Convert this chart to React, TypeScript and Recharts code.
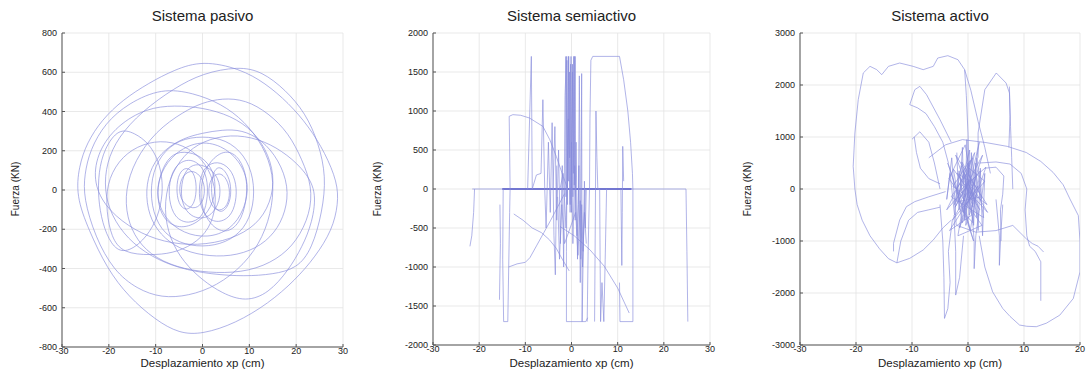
import { LineChart, Line, XAxis, YAxis, CartesianGrid } from 'recharts'

type Pt = [number, number]

// --- Sistema pasivo: fuerza vs desplazamiento (lazos)
const pasivoLoopA: Pt[] = [[0,660],[8,618],[13.4,545],[18.4,443],[22.7,324],[26.2,188],[28.8,40],[29,-70],[27.7,-204],[24.1,-340],[19.8,-459],[14.1,-578],[7,-680],[0,-735],[-5,-731],[-10,-663],[-15.8,-544],[-20.4,-400],[-24.3,-204],[-27,-30],[-26.4,120],[-24.7,240],[-21.5,358],[-17,460],[-11.5,545],[-6,613],[0,660]]
const pasivoLoopB: Pt[] = [[-6,520],[0,595],[7.7,630],[12.7,604],[17.7,511],[22,392],[24.8,239],[26.4,69],[25.6,-110],[23.4,-300],[20.2,-400],[15,-430],[9,-440],[2,-430],[-5,-400],[-11,-340],[-16,-250],[-19.5,-130],[-21,0],[-20.5,140],[-18,270],[-13,400],[-6,520]]
const pasivoLoopC: Pt[] = [[-8.7,519],[-2,495],[4,440],[9,350],[13,225],[15.2,80],[15,-80],[13,-240],[9,-380],[3,-490],[-3,-540],[-8.7,-550],[-14,-505],[-19,-410],[-22.9,-240],[-25.4,-40],[-25.2,80],[-24,205],[-20.8,341],[-15.8,443],[-8.7,519]]
const pasivoLoopD: Pt[] = [[-17.9,316],[-14.4,290],[-11.5,239],[-9.4,154],[-8.4,40],[-8.8,-80],[-10.5,-190],[-13.5,-280],[-17,-323],[-19.5,-280],[-21.4,-170],[-22.3,-40],[-22.2,90],[-21,210],[-17.9,316]]
const pasivoLoopE: Pt[] = [[-0.1,290],[4.2,307],[8.4,307],[12.7,256],[16.3,154],[18.4,18],[17.8,-110],[15.5,-220],[11.5,-300],[6,-340],[0,-335],[-5,-300],[-9,-230],[-11.5,-130],[-12.2,0],[-11,120],[-8,210],[-4,265],[-0.1,290]]
const pasivoLoopF: Pt[] = [[-4,400],[0,445],[4.2,468],[9.2,460],[14.1,392],[18.4,290],[21.3,154],[23.4,18],[23,-120],[20.2,-260],[16,-355],[10,-415],[3,-425],[-4,-405],[-10,-350],[-14,-260],[-16.2,-140],[-16.5,0],[-14.5,150],[-10,300],[-4,400]]
const pasivoLoopG: Pt[] = [[24.5,0],[23.4,-170],[21.3,-289],[18.4,-408],[14.1,-527],[9.2,-570],[4.2,-527],[0,-460],[-4,-370],[-7,-250],[-8.3,-100],[-7.2,60],[-4,180],[0,250],[6,285],[12,262],[17,200],[21.2,115],[24.5,0]]
const pasivoLoopH: Pt[] = [[-17,-323],[-11,-332],[-6.5,-323],[-2,-280],[1.5,-200],[3,-80],[2.5,50],[0,160],[-4,230],[-9,255],[-14,225],[-18,150],[-20.5,30],[-20.5,-110],[-19.5,-240],[-17,-323]]
const pasivoLoopP: Pt[] = [[-12,417],[-6,432],[0,420],[6,380],[11,300],[14.2,180],[15.5,40],[14,-100],[10.5,-200],[4.5,-265],[-3,-285],[-10,-255],[-16,-185],[-21,-80],[-23.4,50],[-22.3,200],[-18.2,330],[-12,417]]
const pasivoLoopK: Pt[] = [[0,275],[5,258],[9,180],[11,60],[11,-80],[9,-200],[5,-270],[0,-292],[-5,-272],[-9,-205],[-11,-80],[-11,60],[-9,180],[-5,258],[0,275]]
const pasivoLoopL: Pt[] = [[-1,250],[4,230],[8,150],[10,30],[9,-100],[6,-205],[1,-245],[-4,-222],[-8,-150],[-10,-30],[-9,90],[-6,190],[-1,250]]
const pasivoLoopI: Pt[] = [[-3,165],[0,125],[1.2,40],[1,-60],[0,-140],[-3,-175],[-6,-142],[-7.2,-50],[-7.1,40],[-6,122],[-3,165]]
const pasivoLoopJ: Pt[] = [[3.2,150],[6,112],[7.3,30],[7.2,-60],[6,-140],[3,-172],[0.2,-130],[-0.8,-40],[-0.6,50],[0.4,120],[3.2,150]]
const pasivoLoopM: Pt[] = [[-2,105],[0,62],[0.6,0],[0,-72],[-2,-102],[-4.5,-62],[-5.1,10],[-4.2,80],[-2,105]]
const pasivoLoopN: Pt[] = [[4,92],[5.6,40],[5.9,-30],[5.1,-92],[3,-112],[1.5,-62],[1.2,10],[2,70],[4,92]]
const pasivoLoopQ: Pt[] = [[-5,200],[-1,185],[2,120],[3,20],[2,-90],[-1,-170],[-5,-200],[-8.5,-150],[-9.8,-40],[-9.2,70],[-7.5,160],[-5,200]]
const pasivoLoopR: Pt[] = [[5,210],[8,165],[9.6,60],[9.4,-60],[8,-170],[5,-225],[1.5,-180],[-0.5,-70],[-0.3,50],[1.5,150],[5,210]]
const pasivoLoopS: Pt[] = [[-1,140],[2.5,100],[4,20],[3.5,-80],[1,-150],[-2.5,-140],[-4.5,-70],[-4.6,30],[-3.5,110],[-1,140]]
const pasivoLoopT: Pt[] = [[-3.5,120],[-1.8,90],[-1.2,20],[-1.6,-70],[-3.5,-110],[-5.2,-70],[-5.6,10],[-5.1,85],[-3.5,120]]
const pasivoLoopU: Pt[] = [[3.5,125],[5.2,90],[6.2,20],[5.9,-70],[4,-125],[2.2,-80],[1.8,10],[2.2,90],[3.5,125]]

// --- Sistema semiactivo
const semiBase: Pt[] = [[-21.5,0],[24.8,0]]
const semiBaseDense: Pt[] = [[-15,0],[13,0]]
const semiLeftTail: Pt[] = [[-21,0],[-21.2,-300],[-21.6,-600],[-22,-735]]
const semiLeftStep: Pt[] = [[-15.5,-200],[-15.4,-700],[-15.6,-1420]]
const semiLeftBox: Pt[] = [[-14.8,0],[-14.9,-900],[-14.7,-1700],[-13.8,-1700],[-13.6,-1000],[-13.4,-300],[-13.3,0],[-13.4,500],[-13.5,932],[-12.7,953],[-11,945],[-9.1,910],[-6.2,803],[-4.7,632],[-3.3,419],[-1.8,162],[-0.8,0]]
const semiDiagA: Pt[] = [[-13.6,-1000],[-11.8,-960],[-10,-940],[-9,-880],[-7.5,-720],[-6,-560],[-4.5,-400],[-3,-230],[-1.5,-60]]
const semiDiagB: Pt[] = [[-12.5,-320],[-10.5,-400],[-8.5,-500],[-6.5,-560],[-4.8,-650],[-3.3,-760],[-2,-900],[-0.5,-1050]]
const semiDiagC: Pt[] = [[-2.5,-480],[0.6,-600],[4,-780],[7.1,-990],[10,-1270],[12.5,-1590]]
const semiLeftSpikes: Pt[] = [[-9.5,0],[-8.7,1700],[-8.5,0],[-7.6,180],[-6.6,200],[-6.2,1145],[-5.8,0],[-5.5,-500],[-5,600],[-4.6,-300],[-4.2,850],[-3.8,-600],[-3.5,-1100],[-3.2,300]]
const semiCenter: Pt[] = [[-4,0],[-3.6,800],[-3.2,-400],[-2.8,500],[-2.4,-700],[-2,300],[-1.7,-1000],[-1.4,1200],[-1.1,1700],[-0.9,-200],[-0.6,1700],[-0.4,400],[-0.2,1600],[0,-300],[0.2,1500],[0.4,200],[0.6,1700],[0.8,-400],[1,600],[1.3,-900],[1.6,300],[1.9,-1200],[2.2,-200],[2.5,-800],[2.8,100],[3,-500],[3.2,0]]
const semiCenter2: Pt[] = [[-2.5,0],[-1.8,200],[-1.2,-500],[-0.7,900],[-0.3,-300],[0,600],[0.3,-700],[0.7,300],[1.2,-600],[1.5,-200],[1.7,1450],[2,-900],[2.2,1480],[2.3,-1700],[2.6,-600],[3,0]]
const semiFan: Pt[] = [[-1.3,1700],[-1.2,-100],[-1,1650],[-0.9,0],[-0.7,1700],[-0.6,100],[-0.45,1500],[-0.3,-200],[-0.1,1700],[0,0],[0.2,1600],[0.3,-100],[0.5,1700],[0.6,50],[0.8,1700],[0.9,0]]
const semiLower: Pt[] = [[-3,-100],[-2.6,-900],[-2.1,-200],[-1.5,-700],[0.9,-300],[1.4,-850],[1.9,-150],[2.4,-1000],[2.8,-300],[3.2,-700]]
const semiBottomBox: Pt[] = [[-1,0],[-1.1,-800],[-1.1,-1700],[3.1,-1700],[3.5,-1650]]
const semiRightBox: Pt[] = [[3.4,-1700],[3.6,-800],[3.9,0],[4,900],[4.2,1650],[4.6,1700],[10.4,1700],[11.3,1400],[12.2,1000],[12.8,600],[13.2,200],[13.3,0],[13.3,-900],[13.3,-1700],[10.5,-1700],[10.4,-1200]]
const semiRightSpikes: Pt[] = [[5,-1700],[5.1,-900],[5.2,0],[5.3,1000],[5.5,400],[5.7,0],[6.1,0],[6.2,-900],[6.3,-1700],[6.6,-1200],[7,-1700],[7.3,-900],[7.6,0]]
const semiSpike11: Pt[] = [[10.7,0],[10.8,-500],[10.9,-980],[11,-300],[11.1,547],[11.3,100]]
const semiFarRight: Pt[] = [[24.8,0],[25,-800],[25.2,-1700]]

// --- Sistema activo
const activoOuter: Pt[] = [[0.2,300],[0,1077],[-0.3,1800],[-0.6,2295],[-1.8,2487],[-3.6,2564],[-5.4,2519],[-6.2,2359],[-8,2295],[-9.8,2359],[-12.2,2423],[-14.2,2359],[-15.4,2199],[-16.3,2295],[-17.5,2359],[-18.7,2231],[-19.6,1718],[-20.2,1077],[-20.5,436],[-20.2,0],[-19.8,-300],[-18.9,-600],[-17.5,-900],[-15.8,-1150],[-14.2,-1340],[-12.7,-1420],[-10.4,-1333],[-8,-1173],[-6.2,-980],[-4.5,-750],[-3,-600]]
const activoTopDrop: Pt[] = [[-0.6,2295],[0.5,1900],[1.8,1300],[3,800],[4,300]]
const activoArcRight: Pt[] = [[1.8,600],[1.8,1077],[3,1910],[5.05,2231],[6.8,2038],[7.4,1846],[7.6,1200],[7.8,600],[8,0]]
const activoSpike7: Pt[] = [[7.4,1970],[7.5,1400],[7.3,800]]
const activoLoopMid: Pt[] = [[-3,900],[-5,1333],[-7.4,1814],[-8.6,1974],[-9.5,1910],[-10.4,1622],[-9,1560],[-7.5,1450],[-6,1200],[-4.5,900],[-3.5,500]]
const activoBigRight: Pt[] = [[-7,600],[-4,850],[-1,950],[3.2,893],[7,820],[10.4,702],[13,530],[15.2,319],[17,80],[18.2,-191],[19.7,-510],[20,-1000],[20,-1595],[18.8,-2106],[16.4,-2425],[14,-2580],[12.2,-2648],[10.5,-2640],[9.2,-2616],[7.5,-2450],[6.2,-2297],[4.4,-1978],[3,-1500],[2,-900]]
const activoArcRight2: Pt[] = [[2,500],[5,520],[7.5,480],[9.5,300],[10.5,0],[10.2,-400],[10.5,-900],[11,-1100],[12,-1200],[13,-1400],[13,-2150]]
const activoBottomA: Pt[] = [[-5,-300],[-4.5,-1000],[-4.3,-1700],[-4.2,-2489],[-3.6,-2300],[-3.2,-1800],[-3.5,-1200],[-2.8,-600]]
const activoBottomB: Pt[] = [[-2.5,-500],[-2.2,-1200],[-2.2,-2040],[-1.5,-1700],[-0.8,-900]]
const activoSpike1: Pt[] = [[0.6,-300],[1.1,-1000],[1.1,-1532],[1.4,-900],[2,-400]]
const activoSpike5: Pt[] = [[5,-200],[5.6,-900],[5.6,-1468],[5.9,-800],[6.2,-300]]
const activoLowLeftA: Pt[] = [[-13.3,-1200],[-13.3,-1045],[-12.2,-596],[-11,-340],[-9.5,-243],[-7,-150],[-4,-50]]
const activoLowLeftB: Pt[] = [[-12.7,-1420],[-12,-1000],[-10.6,-600],[-9,-450],[-7,-400],[-5,-350]]
const activoLeftMidA: Pt[] = [[-9.6,1000],[-9.2,700],[-8.5,400],[-7,200],[-5,100]]
const activoLeftMidB: Pt[] = [[-10,957],[-8.6,1100],[-7,900],[-6,500],[-5,0]]
const activoLowRight: Pt[] = [[-2,-700],[1.4,-830],[5,-800],[8,-700],[10.4,-957],[11.5,-1050],[12.5,-1100],[13.5,-1212]]
const activoRightCluster: Pt[] = [[3,400],[5,420],[6.4,250],[6.2,-100],[5.8,-400],[5.9,-1000]]
const activoCenter: Pt[] = [[0,0],[-1.2,450],[-2.4,-300],[0.8,600],[1.6,-550],[-0.5,850],[-3.4,200],[2.5,-700],[-1.8,-900],[0.2,400],[3,150],[-2.8,-600],[-0.6,-200],[1.2,700],[-3.8,-400],[2.2,350],[0.4,-800],[-1.4,100],[3.4,-300],[-2.2,650],[0.9,-350],[-0.2,300],[-3,-150],[2.8,-550],[1.5,250],[-1,-650],[-2.6,380],[0.6,-100],[2,900],[-0.8,-450],[-3.6,500],[1,-1000],[-1.6,-50],[3.2,420],[-0.4,-700],[0.3,750],[-2,-250],[2.4,-150],[-1.1,520],[0.7,-500],[-3.3,-800],[1.8,60],[-0.3,-300],[0.5,200],[-2.3,-350],[2.6,650],[-1.5,-750],[0.1,-50],[3.5,-450],[-0.9,350],[1.3,-250],[-2.7,50],[0.4,550],[-0.6,-150],[1.1,100],[-1.9,300],[2.1,-400],[-0.1,150],[0.9,-650],[-1.3,-400],[0,0]]
const activoCenter2: Pt[] = [[-2,700],[-1.6,-400],[-1,800],[-0.6,-600],[-0.2,950],[0.2,-500],[0.6,700],[1,-700],[1.4,500],[1.8,-800],[2.2,400],[2.6,-900],[3,300],[2.4,-200],[1.6,600],[0.8,-300],[0,500],[-0.8,-200],[-1.6,350],[-2.4,-500],[-3.2,300],[-3.8,-200],[-2.9,600],[-2.1,-700]]

const pasivoXTicks = [-30, -20, -10, 0, 10, 20, 30]
const pasivoYTicks = [-800, -600, -400, -200, 0, 200, 400, 600, 800]
const semiXTicks = [-30, -20, -10, 0, 10, 20, 30]
const semiYTicks = [-2000, -1500, -1000, -500, 0, 500, 1000, 1500, 2000]
const activoXTicks = [-30, -20, -10, 0, 10, 20]
const activoYTicks = [-3000, -2000, -1000, 0, 1000, 2000, 3000]

const LINE = '#878bdc'
const FONT = '"Liberation Sans", Arial, Helvetica, sans-serif'

interface Series {
  pts: Pt[]
  curve?: 'basisClosed' | 'linear'
  color?: string
  width?: number
}

interface PanelProps {
  title: string
  left: number
  width: number
  plotLeft: number
  plotRight: number
  plotBottom: number
  xTicks: number[]
  yTicks: number[]
  series: Series[]
  yLabelX: number
}

// closed loops repeat their first point; basisClosed closes them itself
const toRows = (s: Series) => {
  const pts = s.curve === 'basisClosed' ? s.pts.slice(0, -1) : s.pts
  return pts.map(([x, y]) => ({ x, y }))
}

const noTick = () => <g />

function Panel({ title, left, width, plotLeft, plotRight, plotBottom, xTicks, yTicks, series, yLabelX }: PanelProps) {
  const xDomain = [xTicks[0], xTicks[xTicks.length - 1]]
  const yDomain = [yTicks[0], yTicks[yTicks.length - 1]]
  const plotTop = 33
  const center = (plotLeft + plotRight) / 2 - left
  const tickStyle = { fontSize: 9, fill: '#222', fontFamily: FONT }

  return (
    <div style={{ position: 'absolute', left, top: 0, width, height: 384 }}>
      <div
        style={{
          position: 'absolute', left: center - 100, width: 200, top: 7, textAlign: 'center',
          fontFamily: FONT, fontSize: 15, lineHeight: '17px', color: '#222',
        }}
      >
        {title}
      </div>
      <LineChart
        width={width}
        height={384}
        margin={{ top: plotTop, right: left + width - plotRight, bottom: 384 - plotBottom - 20, left: 0 }}
      >
        <CartesianGrid stroke="#e3e3e3" strokeWidth={0.8} />
        <XAxis
          dataKey="x" type="number" domain={xDomain} ticks={xTicks} interval={0} allowDataOverflow
          height={20} tickSize={-3} tickMargin={4} tick={tickStyle} stroke="#555"
        />
        <XAxis
          xAxisId="top" orientation="top" type="number" domain={xDomain} ticks={xTicks} interval={0}
          height={0} tickSize={-3} tick={noTick} stroke="#555"
        />
        <YAxis
          type="number" domain={yDomain} ticks={yTicks} interval={0} allowDataOverflow
          width={plotLeft - left} tickSize={-3} tickMargin={8} tick={tickStyle} stroke="#555"
        />
        <YAxis
          yAxisId="right" orientation="right" type="number" domain={yDomain} ticks={yTicks} interval={0}
          width={0} tickSize={-3} tick={noTick} stroke="#555"
        />
        {series.map((s, i) => (
          <Line
            key={i}
            data={toRows(s)}
            dataKey="y"
            type={s.curve || 'linear'}
            stroke={s.color || LINE}
            strokeWidth={s.width || 0.65}
            dot={false}
            activeDot={false}
            isAnimationActive={false}
          />
        ))}
      </LineChart>
      <div
        style={{
          position: 'absolute', left: center - 100, width: 200, top: 357, textAlign: 'center',
          fontFamily: FONT, fontSize: 11.5, lineHeight: '12px', color: '#222',
        }}
      >
        Desplazamiento xp (cm)
      </div>
      <div
        style={{
          position: 'absolute', left: yLabelX - 50, width: 100, top: 183, textAlign: 'center',
          fontFamily: FONT, fontSize: 10, lineHeight: '12px', color: '#222', transform: 'rotate(-90deg)',
        }}
      >
        Fuerza (KN)
      </div>
    </div>
  )
}

const pasivoSeries: Series[] = [
  pasivoLoopA, pasivoLoopB, pasivoLoopC, pasivoLoopD, pasivoLoopE, pasivoLoopF, pasivoLoopG, pasivoLoopH,
  pasivoLoopP, pasivoLoopK, pasivoLoopL, pasivoLoopI, pasivoLoopJ, pasivoLoopM, pasivoLoopN, pasivoLoopQ,
  pasivoLoopR, pasivoLoopS, pasivoLoopT, pasivoLoopU,
].map((pts) => ({ pts, curve: 'basisClosed' as const }))

const semiSeries: Series[] = [
  { pts: semiBase }, { pts: semiBaseDense, color: '#5559c9', width: 1.3 },
  { pts: semiLeftTail }, { pts: semiLeftStep }, { pts: semiLeftBox }, { pts: semiDiagA }, { pts: semiDiagB },
  { pts: semiDiagC }, { pts: semiLeftSpikes }, { pts: semiCenter }, { pts: semiCenter2 }, { pts: semiFan },
  { pts: semiLower }, { pts: semiBottomBox }, { pts: semiRightBox }, { pts: semiRightSpikes },
  { pts: semiSpike11 }, { pts: semiFarRight },
]

const activoSeries: Series[] = [
  activoOuter, activoTopDrop, activoArcRight, activoSpike7, activoLoopMid, activoBigRight, activoArcRight2,
  activoBottomA, activoBottomB, activoSpike1, activoSpike5, activoLowLeftA, activoLowLeftB, activoLeftMidA,
  activoLeftMidB, activoLowRight, activoRightCluster, activoCenter, activoCenter2,
].map((pts) => ({ pts }))

export default function App() {
  return (
    <div style={{ position: 'absolute', left: 0, top: 0, width: 1088, height: 384, background: '#fff', overflow: 'hidden' }}>
      <Panel title="Sistema pasivo" left={0} width={363} plotLeft={62} plotRight={343} plotBottom={347}
        xTicks={pasivoXTicks} yTicks={pasivoYTicks} series={pasivoSeries} yLabelX={16} />
      <Panel title="Sistema semiactivo" left={363} width={363} plotLeft={433} plotRight={710} plotBottom={345}
        xTicks={semiXTicks} yTicks={semiYTicks} series={semiSeries} yLabelX={15} />
      <Panel title="Sistema activo" left={726} width={362} plotLeft={800} plotRight={1080} plotBottom={345}
        xTicks={activoXTicks} yTicks={activoYTicks} series={activoSeries} yLabelX={22} />
    </div>
  )
}
